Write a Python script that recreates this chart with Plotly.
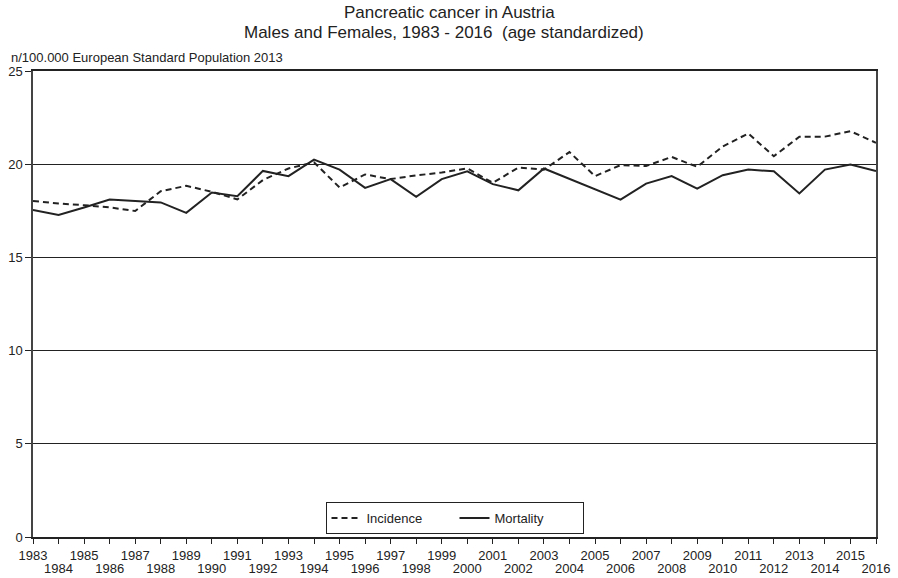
import plotly.graph_objects as go

# Age-standardized rates per 100,000 (European Standard Population 2013)
years = list(range(1983, 2017))

incidence = [18.03, 17.89, 17.8, 17.68, 17.49, 18.55, 18.84, 18.52, 18.11, 19.15,
             19.77, 20.1, 18.75, 19.45, 19.2, 19.4, 19.55, 19.78, 19.0, 19.82,
             19.71, 20.65, 19.36, 19.95, 19.9, 20.39, 19.86, 20.95, 21.65, 20.43,
             21.47, 21.48, 21.77, 21.15]

mortality = [17.55, 17.28, 17.68, 18.1, 18.02, 17.95, 17.39, 18.48, 18.28, 19.64,
             19.36, 20.25, 19.71, 18.73, 19.2, 18.25, 19.2, 19.62, 18.93, 18.6,
             19.77, 19.2, 18.66, 18.1, 18.96, 19.36, 18.69, 19.41, 19.71, 19.62,
             18.43, 19.71, 19.98, 19.64]

y_ticks = [0, 5, 10, 15, 20, 25]

# Odd years labelled on the first row, even years on a second row below
odd_text = [str(y) if y % 2 == 1 else "" for y in years]
even_years = [y for y in years if y % 2 == 0]

FONT = "Liberation Sans, Arial, Helvetica, sans-serif"
INK = "#222222"

fig = go.Figure()
fig.add_trace(go.Scatter(
    x=years, y=incidence, mode="lines", name="Incidence",
    line=dict(color=INK, width=2, dash="6px,4px"),
))
fig.add_trace(go.Scatter(
    x=years, y=mortality, mode="lines", name="Mortality",
    line=dict(color=INK, width=2),
))

fig.update_layout(
    width=898, height=578,
    margin=dict(l=33, r=22, t=71, b=41),
    paper_bgcolor="white", plot_bgcolor="white",
    font=dict(family=FONT, size=13, color=INK),
    showlegend=True,
    legend=dict(
        orientation="h", x=0.5, xanchor="center", y=3 / 466, yanchor="bottom",
        bordercolor=INK, borderwidth=1, bgcolor="white",
        font=dict(size=13), entrywidth=83, entrywidthmode="pixels",
    ),
    xaxis=dict(
        range=[1983, 2016], tickmode="array", tickvals=years, ticktext=odd_text,
        showgrid=False, zeroline=False, automargin=False,
        showline=True, linecolor=INK, linewidth=2, mirror=True,
        ticks="outside", ticklen=5, tickcolor=INK, tickwidth=1,
        tickangle=0, tickfont=dict(size=13),
    ),
    xaxis2=dict(
        range=[1983, 2016], overlaying="x", anchor="y", side="bottom",
        tickmode="array", tickvals=even_years,
        ticktext=[str(y) for y in even_years],
        showgrid=False, zeroline=False, automargin=False, showline=False,
        ticks="outside", ticklen=5, tickcolor=INK, tickwidth=1,
        ticklabelstandoff=14, tickangle=0, tickfont=dict(size=13),
    ),
    yaxis=dict(
        range=[0, 25], tickmode="array", tickvals=y_ticks,
        showgrid=True, gridcolor=INK, gridwidth=1, zeroline=False,
        automargin=False,
        showline=True, linecolor="#444444", linewidth=1.5, mirror=True,
        ticks="outside", ticklen=6, tickcolor=INK, tickwidth=1,
        tickfont=dict(size=13),
    ),
    annotations=[
        dict(text="Pancreatic cancer in Austria", xref="paper", yref="paper",
             x=(449 - 33) / 843, y=(537 - 12) / 466, xanchor="center",
             yanchor="middle", showarrow=False, font=dict(size=17)),
        dict(text="Males and Females, 1983 - 2016  (age standardized)",
             xref="paper", yref="paper", x=(444 - 33) / 843, y=(537 - 33) / 466,
             xanchor="center", yanchor="middle", showarrow=False,
             font=dict(size=17)),
        dict(text="n/100.000 European Standard Population 2013",
             xref="paper", yref="paper", x=(9 - 33) / 843, y=(537 - 57) / 466,
             xanchor="left", yanchor="middle", showarrow=False,
             font=dict(size=13)),
    ],
)

# Invisible carrier so the second x-axis is drawn
fig.add_trace(go.Scatter(x=[years[0]], y=[None], xaxis="x2", yaxis="y",
                         showlegend=False, hoverinfo="skip", mode="lines"))

fig.write_html("out.html")
